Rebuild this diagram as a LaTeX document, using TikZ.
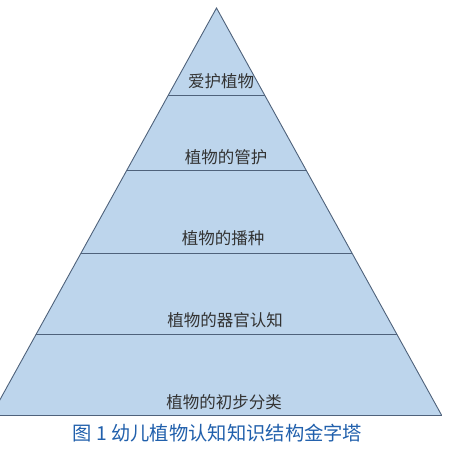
\documentclass[tikz,border=0pt]{standalone}
\usepackage{fontspec}
\setmainfont{Noto Sans CJK SC}
\usepackage{xcolor}
\usetikzlibrary{calc}

\definecolor{layerfill}{HTML}{BDD5EC}
\definecolor{layerline}{HTML}{4F627B}
\definecolor{captionblue}{HTML}{2160AC}

\begin{document}
\begin{tikzpicture}[
    x=1pt, y=-1pt,
    layer/.style={draw=layerline, line width=0.9pt},
    level/.style={font=\fontsize{16.5}{16.5}\selectfont, text=black!80, inner sep=0pt},
    caption/.style={font=\fontsize{19.3}{19.3}\selectfont, text=captionblue, inner sep=0pt},
]
\useasboundingbox (0,0) rectangle (457,448);
\clip (0,0) rectangle (457,448);

% --- Pyramid outline ---
\coordinate (apex) at (216.5,8);
\coordinate (bl) at (-8.5,415);
\coordinate (br) at (441.5,415);
\fill[layerfill] (apex) -- (bl) -- (br) -- cycle;
\draw[layer, line join=miter] (bl) -- (apex) -- (br);
\draw[layer] (bl) -- (br);

% --- Level dividers ---
\foreach \t in {0.214,0.400,0.604,0.802}
    \draw[layer] ($(apex)!\t!(bl)$) -- ($(apex)!\t!(br)$);

% --- Level labels ---
\node[level] (l1) at (221,81)  {爱护植物};
\node[level] (l2) at (226,157) {植物的管护};
\node[level] (l3) at (223,238) {植物的播种};
\node[level] (l4) at (225,320) {植物的器官认知};
\node[level] (l5) at (224,402) {植物的初步分类};

% --- Caption ---
\node[caption] (cap) at (217.5,433) {图 1 幼儿植物认知知识结构金字塔};

\end{tikzpicture}
\end{document}
